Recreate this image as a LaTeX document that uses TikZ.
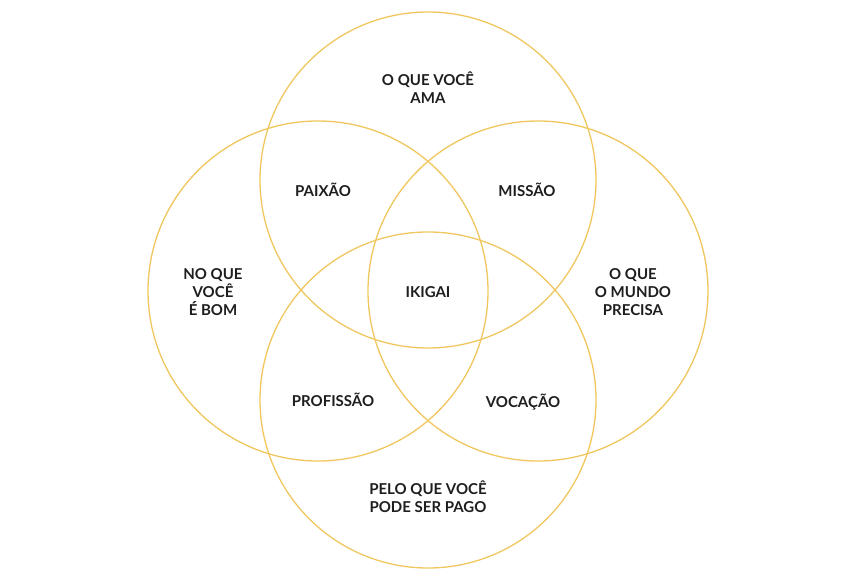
\documentclass[tikz,border=0pt]{standalone}
\usepackage{fontspec}
\setmainfont{Lato}
\usetikzlibrary{positioning}
\definecolor{ringgold}{HTML}{F0C75E}
\definecolor{labeltext}{HTML}{1E1E1E}

\begin{document}
\begin{tikzpicture}[
        x=1pt, y=-1pt,
        ring/.style={draw=ringgold, line width=1.3pt},
        every node/.style={align=center, text=labeltext, font=\fontsize{15}{18}\selectfont\bfseries}
    ]
    \useasboundingbox (0,0) rectangle (857,577);
    % circles
    \coordinate (ama) at (428,180);
    \coordinate (bom) at (318,291);
    \coordinate (mundo) at (538,291);
    \coordinate (pago) at (428,400);
    \draw[ring] (ama) circle (168);
    \draw[ring] (bom) circle (170);
    \draw[ring] (mundo) circle (170);
    \draw[ring] (pago) circle (168);
    % labels
    \node (t) at (428,88) {O QUE VOCÊ\\AMA};
    \node (l) at (213,292) {NO QUE\\VOCÊ\\É BOM};
    \node (r) at (633,292) {O QUE\\O MUNDO\\PRECISA};
    \node (b) at (428,497) {PELO QUE VOCÊ\\PODE SER PAGO};
    \node (paixao) at (323,190) {PAIXÃO};
    \node (missao) at (527,190) {MISSÃO};
    \node (ikigai) at (428,292) {IKIGAI};
    \node (profissao) at (333,400) {PROFISSÃO};
    \node (vocacao) at (523,402) {VOCAÇÃO};
\end{tikzpicture}
\end{document}
